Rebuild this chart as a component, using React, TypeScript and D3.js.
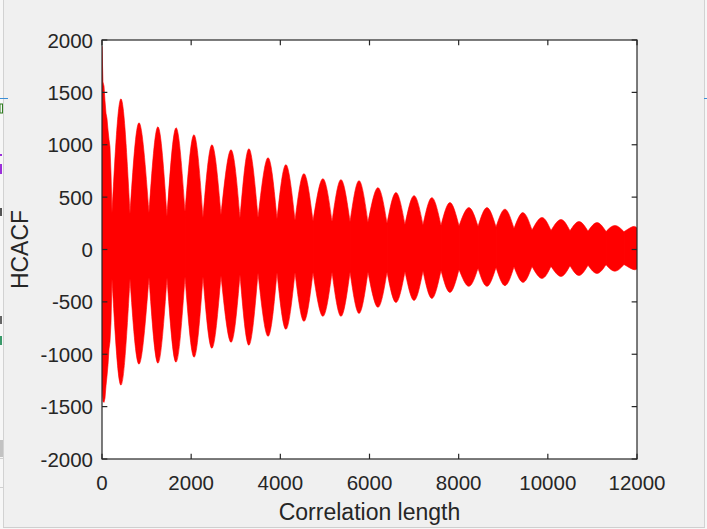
import React from 'react';
import * as d3 from 'd3';

// ---- data ----
const xTicks = [0, 2000, 4000, 6000, 8000, 10000, 12000];
const yTicks = [-2000, -1500, -1000, -500, 0, 500, 1000, 1500, 2000];

// initial decay (first lobe), correlation length / envelope values
const headLag = [0, 22, 45, 67, 90, 112, 135, 157, 179, 202, 224];
const headUpper = [1940, 1600, 1560, 1420, 1300, 1250, 1140, 1050, 980, 730, 350];
const headLower = [-1330, -1450, -1460, -1420, -1300, -1210, -1100, -950, -880, -700, -280];

// envelope minima between beat lobes
const troughLag = [224, 628, 1054, 1458, 1862, 2265, 2669, 3095, 3499, 3925, 4329, 4733, 5159, 5563, 5966,
  6393, 6796, 7200, 7604, 8008, 8434, 8838, 9241, 9645, 10071, 10497, 10901, 11305, 11709, 12000];
const troughUpper = [350, 340, 350, 314, 360, 305, 330, 300, 305, 290, 280, 270, 267, 265, 260,
  250, 238, 235, 230, 225, 219, 215, 200, 185, 181, 178, 175, 172, 170, 205];
const troughLower = [-280, -280, -267, -270, -260, -260, -250, -240, -225, -220, -220, -220, -215, -215, -215,
  -215, -210, -205, -200, -190, -180, -171, -165, -162, -160, -155, -150, -145, -143, -185];

// envelope maxima of beat lobes
const peakLag = [425, 830, 1255, 1660, 2065, 2465, 2895, 3295, 3725, 4125, 4530, 4955, 5360, 5765, 6190,
  6595, 7000, 7400, 7805, 8230, 8635, 9040, 9445, 9870, 10295, 10700, 11105, 11505, 11910];
const peakUpper = [1438, 1210, 1171, 1162, 1095, 1000, 952, 962, 876, 810, 724, 676, 667, 657, 590,
  543, 514, 495, 448, 400, 400, 385, 352, 305, 286, 267, 257, 229, 219];
const peakLower = [-1295, -1095, -1086, -1076, -1029, -943, -886, -914, -829, -762, -686, -638, -638, -610, -552,
  -505, -486, -467, -410, -352, -352, -345, -314, -276, -257, -248, -229, -207, -190];

const FONT = '"Liberation Sans", Arial, Helvetica, sans-serif';
const AX = '#262626';

export default function App() {
  const W = 707, H = 529;
  const L = 102, R = 637, T = 40, B = 459;
  const x = d3.scaleLinear().domain([0, 12000]).range([L, R]);
  const y = d3.scaleLinear().domain([-2000, 2000]).range([B, T]);

  type P = [number, number, number];
  const lobeArea = d3.area<P>()
    .x(d => x(d[0])).y0(d => y(d[2])).y1(d => y(d[1]))
    .curve(d3.curveNatural);
  const headArea = d3.area<P>()
    .x(d => x(d[0])).y0(d => y(d[2])).y1(d => y(d[1]))
    .curve(d3.curveLinear);

  const headPts: P[] = headLag.map((l, i) => [l, headUpper[i], headLower[i]]);
  const lobes = peakLag.map((p, i) => lobeArea([
    [troughLag[i], troughUpper[i], troughLower[i]],
    [p, peakUpper[i], peakLower[i]],
    [troughLag[i + 1], troughUpper[i + 1], troughLower[i + 1]],
  ]) as string);

  const tl = 5.35;

  return (
    <svg width={W} height={H} style={{ position: 'absolute', left: 0, top: 0 }}
      xmlns="http://www.w3.org/2000/svg">
      {/* window background */}
      <rect x={0} y={0} width={W} height={H} fill="#f7f7f7" />
      <rect x={3.5} y={0} width={701} height={527} fill="#f0f0f0" />
      <line x1={3.5} y1={0} x2={3.5} y2={527} stroke="#d2d2d2" />
      <line x1={704.5} y1={0} x2={704.5} y2={527} stroke="#d2d2d2" />
      <line x1={3} y1={527.5} x2={705} y2={527.5} stroke="#cfcfcf" />
      {/* background window fragments */}
      <line x1={0} y1={98.5} x2={8} y2={98.5} stroke="#3c8fd6" />
      <line x1={704} y1={98.5} x2={707} y2={98.5} stroke="#3c8fd6" />
      <rect x={0} y={104} width={2.5} height={9} fill="none" stroke="#2e7d1e" strokeWidth={1} />
      <rect x={0} y={154} width={2} height={2} fill="#9b30d9" />
      <rect x={0} y={164} width={2} height={10} fill="#9b30d9" />
      <rect x={0} y={208} width={2} height={8} fill="#555" />
      <rect x={0} y={316} width={2} height={8} fill="#666" />
      <rect x={0} y={336} width={2} height={9} fill="#3a9a6a" />
      <rect x={0} y={440} width={3} height={17} fill="#c2c2c2" />
      <line x1={0} y1={458.5} x2={3} y2={458.5} stroke="#d0d0d0" />
      <line x1={0} y1={487.5} x2={3} y2={487.5} stroke="#d0d0d0" />

      {/* axes background */}
      <rect x={L} y={T} width={R - L} height={B - T} fill="#ffffff" />

      <defs>
        <clipPath id="plotClip">
          <rect x={L} y={T} width={R - L} height={B - T} />
        </clipPath>
      </defs>
      <g clipPath="url(#plotClip)">
        <path d={headArea(headPts) as string} fill="#ff0000" stroke="#ff0000" strokeWidth={0.6} />
        {lobes.map((d, i) => (
          <path key={i} d={d} fill="#ff0000" stroke="#ff0000" strokeWidth={0.6} />
        ))}
      </g>

      {/* box and ticks */}
      <rect x={L} y={T} width={R - L} height={B - T} fill="none" stroke={AX} strokeWidth={1.2} />
      {xTicks.map(t => (
        <g key={'xt' + t}>
          <line x1={x(t)} x2={x(t)} y1={B} y2={B - tl} stroke={AX} strokeWidth={1.2} />
          <line x1={x(t)} x2={x(t)} y1={T} y2={T + tl} stroke={AX} strokeWidth={1.2} />
          <text x={x(t)} y={490} textAnchor="middle" fontFamily={FONT} fontSize={20.5} fill={AX}>{t}</text>
        </g>
      ))}
      {yTicks.map(t => (
        <g key={'yt' + t}>
          <line x1={L} x2={L + tl} y1={y(t)} y2={y(t)} stroke={AX} strokeWidth={1.2} />
          <line x1={R} x2={R - tl} y1={y(t)} y2={y(t)} stroke={AX} strokeWidth={1.2} />
          <text x={93} y={y(t) + 7.5} textAnchor="end" fontFamily={FONT} fontSize={20.5} fill={AX}>{t}</text>
        </g>
      ))}
      <text x={(L + R) / 2} y={520} textAnchor="middle" fontFamily={FONT} fontSize={23} fill={AX}>Correlation length</text>
      <text transform={`translate(28,${(T + B) / 2}) rotate(-90)`} textAnchor="middle" fontFamily={FONT} fontSize={23} fill={AX}>HCACF</text>
    </svg>
  );
}
